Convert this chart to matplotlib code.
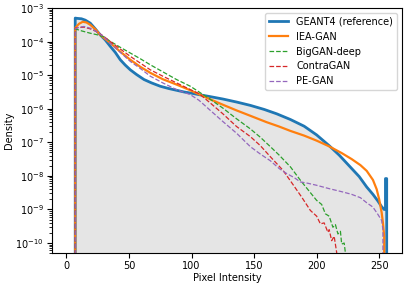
import numpy as np
import matplotlib
matplotlib.use("Agg")
import matplotlib.pyplot as plt
from matplotlib.ticker import LogLocator, NullFormatter

# values (pixel intensity, log10 density)
geant_x = [7, 7, 9, 12, 15, 19, 23, 27, 31, 35, 39, 43, 47, 51, 56, 62, 68, 75, 82, 88, 94, 99,
           106, 115, 125, 136, 147, 158, 168, 179, 190, 200, 210, 218, 226, 234, 240, 245, 249,
           252, 254, 255, 255, 256, 256]
geant_log = [-12, -3.30, -3.31, -3.32, -3.36, -3.45, -3.62, -3.80, -3.95, -4.14, -4.32, -4.54,
             -4.70, -4.84, -4.98, -5.13, -5.23, -5.33, -5.40, -5.45, -5.50, -5.53, -5.58, -5.64,
             -5.71, -5.80, -5.90, -6.02, -6.15, -6.32, -6.52, -6.78, -7.10, -7.38, -7.70, -8.02,
             -8.33, -8.55, -8.75, -8.92, -9.0, -9.0, -8.08, -8.08, -12]

iea_x = [7, 7, 8, 10, 13, 16, 19, 23, 27, 31, 35, 43, 51, 59, 67, 77, 88, 99, 106, 115, 125,
         136, 147, 160, 170, 179, 190, 200, 210, 220, 228, 235, 240, 245, 248, 250, 252, 253,
         254, 254]
iea_log = [-12, -3.60, -3.55, -3.47, -3.41, -3.43, -3.50, -3.63, -3.80, -3.92, -4.04, -4.30,
           -4.54, -4.75, -4.93, -5.12, -5.28, -5.45, -5.57, -5.72, -5.88, -6.05, -6.21, -6.40,
           -6.53, -6.66, -6.80, -6.95, -7.12, -7.32, -7.50, -7.68, -7.85, -8.12, -8.40, -8.70,
           -9.10, -9.40, -9.80, -12]

big_x = [7, 7, 12, 19, 25, 30, 35, 43, 51, 59, 67, 77, 88, 99, 106, 115, 125, 136, 147, 155,
         163, 170, 179, 187, 195, 200, 204, 207, 210, 213, 215, 217, 219, 220, 222, 223, 226]
big_log = [-12, -3.62, -3.68, -3.75, -3.80, -3.86, -3.99, -4.17, -4.34, -4.51, -4.69, -4.90,
           -5.13, -5.33, -5.50, -5.72, -5.98, -6.30, -6.60, -6.85, -7.13, -7.38, -7.73, -8.13,
           -8.50, -8.73, -8.85, -9.13, -9.20, -9.53, -9.45, -9.73, -9.65, -10.03, -10.0, -10.3, -12]

contra_x = [7, 7, 10, 14, 19, 25, 30, 35, 43, 51, 59, 67, 77, 88, 99, 106, 115, 125, 136, 147,
            155, 163, 173, 180, 188, 195, 200, 203, 206, 209, 210, 212, 214, 216, 218]
contra_log = [-12, -3.60, -3.58, -3.57, -3.62, -3.72, -3.85, -4.0, -4.22, -4.44, -4.64, -4.84,
              -5.03, -5.23, -5.43, -5.55, -5.83, -6.15, -6.53, -6.83, -7.10, -7.43, -7.83, -8.20,
              -8.63, -9.03, -9.20, -9.43, -9.40, -9.68, -9.60, -9.93, -9.80, -10.28, -12]

pe_x = [7, 7, 10, 14, 19, 25, 30, 35, 43, 51, 59, 67, 77, 88, 99, 106, 115, 125, 136, 147, 155,
        163, 170, 176, 182, 187, 193, 200, 210, 221, 228, 235, 240, 245, 249, 252, 253, 253]
pe_log = [-12, -3.62, -3.57, -3.55, -3.60, -3.72, -3.86, -4.05, -4.32, -4.59, -4.80, -5.03,
          -5.23, -5.43, -5.58, -5.75, -6.05, -6.38, -6.73, -7.13, -7.35, -7.55, -7.78, -7.93,
          -8.05, -8.18, -8.22, -8.28, -8.38, -8.48, -8.55, -8.65, -8.80, -8.93, -9.15, -9.33,
          -9.6, -12]

y_decades = [1e-10, 1e-9, 1e-8, 1e-7, 1e-6, 1e-5, 1e-4, 1e-3]

plt.rcParams['font.size'] = 7

fig = plt.figure(figsize=(4.07, 2.87), dpi=100)
ax = fig.add_subplot(111)
fig.subplots_adjust(left=0.128, right=0.987, bottom=0.118, top=0.972)

geant_y = 10.0 ** np.array(geant_log)
ax.fill_between(geant_x, geant_y, 1e-12, color='#e5e5e5', lw=0)
ax.plot(geant_x, geant_y, color='C0', lw=2, label='GEANT4 (reference)')
ax.plot(iea_x, 10.0 ** np.array(iea_log), color='C1', lw=1.6, label='IEA-GAN')
ax.plot(big_x, 10.0 ** np.array(big_log), color='C2', lw=0.9, ls='--', label='BigGAN-deep')
ax.plot(contra_x, 10.0 ** np.array(contra_log), color='C3', lw=0.9, ls='--', label='ContraGAN')
ax.plot(pe_x, 10.0 ** np.array(pe_log), color='C4', lw=0.9, ls='--', label='PE-GAN')

ax.set_yscale('log')
ax.set_yticks(y_decades)
ax.yaxis.set_minor_locator(LogLocator(base=10, subs=np.arange(2, 10), numticks=100))
ax.yaxis.set_minor_formatter(NullFormatter())
ax.set_ylim(5e-11, 1e-3)
ax.set_xlim(-11.5, 268)
ax.set_xticks([0, 50, 100, 150, 200, 250])
ax.tick_params(axis='both', pad=2.5)
ax.set_xlabel('Pixel Intensity', labelpad=1)
ax.set_ylabel('Density', labelpad=1)
ax.legend(loc='upper right', fontsize=7)

fig.savefig('out.png', dpi=100)
